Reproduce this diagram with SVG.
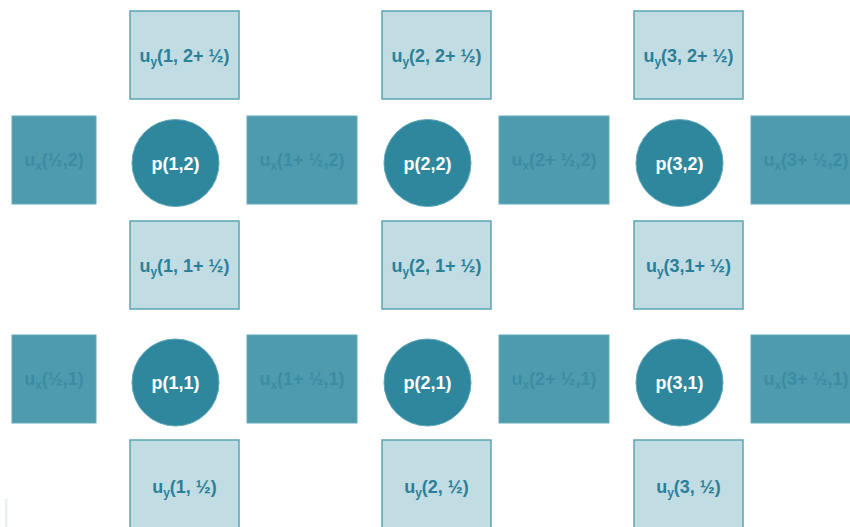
<svg xmlns="http://www.w3.org/2000/svg" width="850" height="527" viewBox="0 0 850 527">
<style>
.uy{fill:#c1dce3;stroke:#5ba4b6;stroke-width:1.5}
.ux{fill:#4f9bae;stroke:#62aabb;stroke-width:1}
.p{fill:#2f879e;stroke:#5fa7b8;stroke-width:1}
text{font-family:"Liberation Sans",Arial,sans-serif;font-weight:bold;font-size:18px;text-anchor:middle}
.tuy{fill:#2b8098}
.tux{fill:#3b8ca2}
.tp{fill:#ffffff}
.s{font-size:12px}
</style>
<rect x="0" y="0" width="850" height="527" fill="#ffffff"/>
<rect x="5" y="499" width="2.5" height="28" fill="#e8f2f5"/>
<g id="connectors"></g>
<!-- uy top row -->
<g id="uy_1_2h"><rect class="uy" x="130" y="11" width="109" height="88"/><text class="tuy" x="184.5" y="62">u<tspan class="s" dy="4">y</tspan><tspan dy="-4">(1, 2+ ½)</tspan></text></g>
<g id="uy_2_2h"><rect class="uy" x="382" y="11" width="109" height="88"/><text class="tuy" x="436.5" y="62">u<tspan class="s" dy="4">y</tspan><tspan dy="-4">(2, 2+ ½)</tspan></text></g>
<g id="uy_3_2h"><rect class="uy" x="634" y="11" width="109" height="88"/><text class="tuy" x="688.5" y="62">u<tspan class="s" dy="4">y</tspan><tspan dy="-4">(3, 2+ ½)</tspan></text></g>
<!-- row 2 -->
<g id="ux_h_2"><rect class="ux" x="12" y="116" width="84" height="88"/><text class="tux" x="54" y="166">u<tspan class="s" dy="4">x</tspan><tspan dy="-4">(½,2)</tspan></text></g>
<g id="p_1_2"><circle class="p" cx="175.5" cy="163" r="43.5"/><text class="tp" x="175.5" y="169.5">p(1,2)</text></g>
<g id="ux_1h_2"><rect class="ux" x="247" y="116" width="110" height="88"/><text class="tux" x="302" y="166">u<tspan class="s" dy="4">x</tspan><tspan dy="-4">(1+ ½,2)</tspan></text></g>
<g id="p_2_2"><circle class="p" cx="427.5" cy="163" r="43.5"/><text class="tp" x="427.5" y="169.5">p(2,2)</text></g>
<g id="ux_2h_2"><rect class="ux" x="499" y="116" width="110" height="88"/><text class="tux" x="554" y="166">u<tspan class="s" dy="4">x</tspan><tspan dy="-4">(2+ ½,2)</tspan></text></g>
<g id="p_3_2"><circle class="p" cx="679.5" cy="163" r="43.5"/><text class="tp" x="679.5" y="169.5">p(3,2)</text></g>
<g id="ux_3h_2"><rect class="ux" x="751" y="116" width="110" height="88"/><text class="tux" x="806" y="166">u<tspan class="s" dy="4">x</tspan><tspan dy="-4">(3+ ½,2)</tspan></text></g>
<!-- uy mid row -->
<g id="uy_1_1h"><rect class="uy" x="130" y="221" width="109" height="88"/><text class="tuy" x="184.5" y="272">u<tspan class="s" dy="4">y</tspan><tspan dy="-4">(1, 1+ ½)</tspan></text></g>
<g id="uy_2_1h"><rect class="uy" x="382" y="221" width="109" height="88"/><text class="tuy" x="436.5" y="272">u<tspan class="s" dy="4">y</tspan><tspan dy="-4">(2, 1+ ½)</tspan></text></g>
<g id="uy_3_1h"><rect class="uy" x="634" y="221" width="109" height="88"/><text class="tuy" x="688.5" y="272">u<tspan class="s" dy="4">y</tspan><tspan dy="-4">(3,1+ ½)</tspan></text></g>
<!-- row 1 -->
<g id="ux_h_1"><rect class="ux" x="12" y="335" width="84" height="88"/><text class="tux" x="54" y="385">u<tspan class="s" dy="4">x</tspan><tspan dy="-4">(½,1)</tspan></text></g>
<g id="p_1_1"><circle class="p" cx="175.5" cy="382.5" r="43.5"/><text class="tp" x="175.5" y="389">p(1,1)</text></g>
<g id="ux_1h_1"><rect class="ux" x="247" y="335" width="110" height="88"/><text class="tux" x="302" y="385">u<tspan class="s" dy="4">x</tspan><tspan dy="-4">(1+ ½,1)</tspan></text></g>
<g id="p_2_1"><circle class="p" cx="427.5" cy="382.5" r="43.5"/><text class="tp" x="427.5" y="389">p(2,1)</text></g>
<g id="ux_2h_1"><rect class="ux" x="499" y="335" width="110" height="88"/><text class="tux" x="554" y="385">u<tspan class="s" dy="4">x</tspan><tspan dy="-4">(2+ ½,1)</tspan></text></g>
<g id="p_3_1"><circle class="p" cx="679.5" cy="382.5" r="43.5"/><text class="tp" x="679.5" y="389">p(3,1)</text></g>
<g id="ux_3h_1"><rect class="ux" x="751" y="335" width="110" height="88"/><text class="tux" x="806" y="385">u<tspan class="s" dy="4">x</tspan><tspan dy="-4">(3+ ½,1)</tspan></text></g>
<!-- uy bottom row -->
<g id="uy_1_h"><rect class="uy" x="130" y="440" width="109" height="100"/><text class="tuy" x="184.5" y="493">u<tspan class="s" dy="4">y</tspan><tspan dy="-4">(1, ½)</tspan></text></g>
<g id="uy_2_h"><rect class="uy" x="382" y="440" width="109" height="100"/><text class="tuy" x="436.5" y="493">u<tspan class="s" dy="4">y</tspan><tspan dy="-4">(2, ½)</tspan></text></g>
<g id="uy_3_h"><rect class="uy" x="634" y="440" width="109" height="100"/><text class="tuy" x="688.5" y="493">u<tspan class="s" dy="4">y</tspan><tspan dy="-4">(3, ½)</tspan></text></g>
</svg>
